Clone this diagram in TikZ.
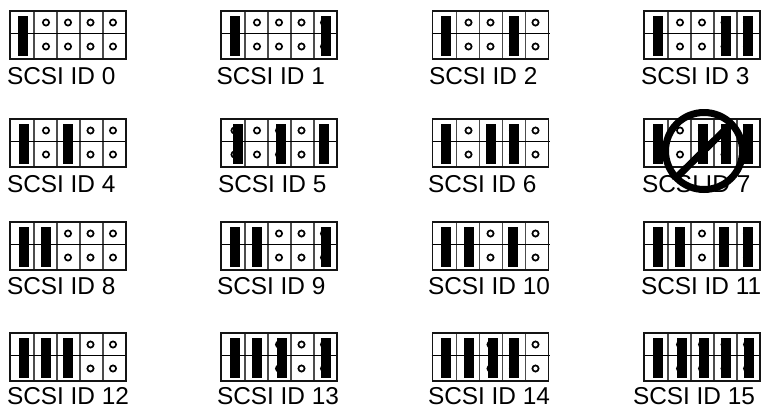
\documentclass[tikz,border=0pt]{standalone}
\usepackage{fontspec}
\setmainfont{Liberation Sans}
\tikzset{
  outerline/.style={draw=black!92,line width=1.6pt},
  innerline/.style={draw=black!70,line width=1.1pt},
  midline/.style={draw=black,line width=1.3pt},
  pinring/.style={draw=black,fill=white,line width=1.7pt},
  jumperbar/.style={fill=black,draw=none},
  idlabel/.style={anchor=base west,inner sep=0pt,outer sep=0pt,font=\fontsize{24.4}{25}\selectfont,text=black},
  forbid/.style={draw=black,line width=7pt}
}
% #1 box left, #2 box top, #3 list of bar lefts, #4 id, #5 label x, #6 label baseline
\newcommand{\jumperblock}[6]{%
  \foreach \cx in {24,47,70,93} {\draw[innerline] (#1+\cx,#2) -- (#1+\cx,#2+48);}
  \draw[midline] (#1-1,#2+22.5) -- (#1+117,#2+22.5);
  \foreach \px in {13.5,36,58,80.5,103} {
    \draw[pinring] (#1+\px,#2+11.5) circle[radius=3.1pt];
    \draw[pinring] (#1+\px,#2+35.5) circle[radius=3.1pt];
  }
  \draw[outerline] (#1,#2) rectangle (#1+116,#2+48);
  \foreach \bx in {#3} {\fill[jumperbar] (\bx-0.2,#2+5.3) rectangle (\bx+10.2,#2+45.2);}
  \node[idlabel] (id#4) at (#5,#6) {SCSI ID #4};
}
\begin{document}
\begin{tikzpicture}[x=1pt,y=-1pt]
\useasboundingbox (0,0) rectangle (764,408);
\jumperblock{10}{11}{18}{0}{7}{84}
\jumperblock{221}{11}{230,320.7}{1}{216.5}{84}
\jumperblock{432.5}{11}{441,509}{2}{429}{84}
\jumperblock{644}{11}{653,720.7,742.7}{3}{641}{84}
\jumperblock{10}{119}{19,63}{4}{7}{192}
\jumperblock{221}{119}{233,276,319}{5}{218}{192}
\jumperblock{432.5}{119}{441,486,508.7}{6}{428}{192}
\jumperblock{644}{119}{653,698,720.7,743}{7}{642}{192}
\jumperblock{10}{222}{19,41}{8}{7}{294}
\jumperblock{221}{222}{230,252,320.7}{9}{217}{294}
\jumperblock{432.5}{222}{441,463.7,508}{10}{428}{294}
\jumperblock{644}{222}{653,675,719,743}{11}{641}{294}
\jumperblock{10}{333}{19,41,63}{12}{7}{404.5}
\jumperblock{221}{333}{230,252,276.7,320.7}{13}{217}{404.5}
\jumperblock{432.5}{333}{441,464,487.7,509}{14}{428}{404.5}
\jumperblock{644}{333}{652.7,677,698.7,721,743.7}{15}{633}{404.5}
\coordinate (ringc) at (704,151);
\draw[forbid] (ringc) circle[radius=38.5pt];
\coordinate (slasha) at (676,178);
\coordinate (slashb) at (732,123);
\draw[forbid] (slasha) -- (slashb);
\end{tikzpicture}
\end{document}
